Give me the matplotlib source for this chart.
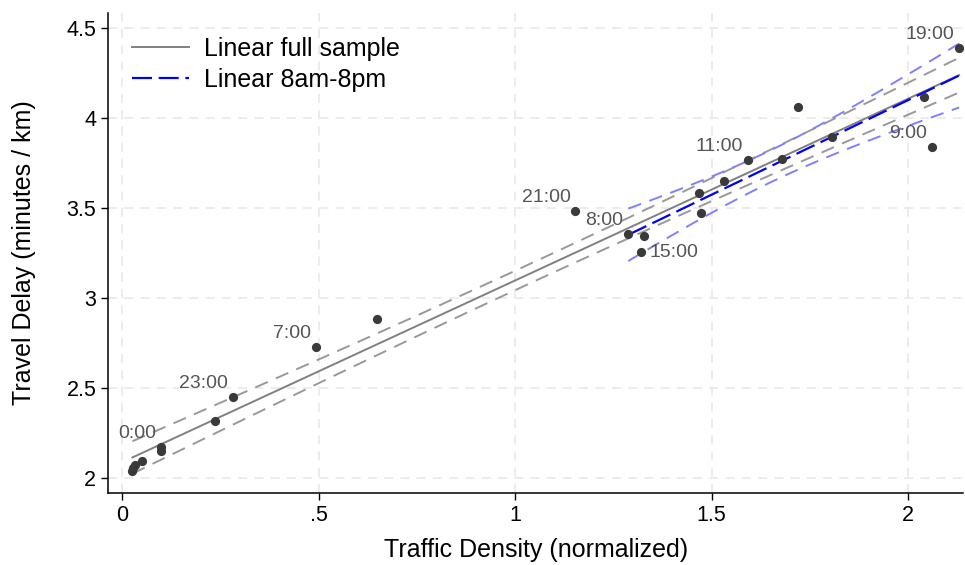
import numpy as np
import matplotlib.pyplot as plt

plt.rcParams['font.family'] = ['Liberation Sans', 'DejaVu Sans']

# hora del dia, densidad normalizada y demora por km
hora = np.array([0, 1, 2, 3, 4, 5, 6, 7, 8, 9, 10, 11,
                 12, 13, 14, 15, 16, 17, 18, 19, 20, 21, 22, 23])
densidad = np.array([0.099, 0.099, 0.051, 0.033, 0.026, 0.028, 0.235, 0.492,
                     1.288, 2.061, 1.806, 1.592, 1.531, 1.467, 1.472, 1.321,
                     1.679, 2.041, 1.719, 2.130, 1.329, 1.153, 0.648, 0.281])
demora = np.array([2.172, 2.150, 2.094, 2.072, 2.039, 2.056, 2.317, 2.728,
                   3.356, 3.839, 3.894, 3.767, 3.650, 3.583, 3.472, 3.256,
                   3.772, 4.117, 4.061, 4.389, 3.344, 3.483, 2.883, 2.450])
etiquetas = [0, 7, 8, 9, 11, 15, 19, 21, 23]
etiq_derecha = [15]

def ajuste_ic(x, y, t):
    # recta de minimos cuadrados con IC 95% de la media
    n = len(x)
    b, a = np.polyfit(x, y, 1)
    res = y - (a + b*x)
    s = np.sqrt(np.sum(res**2)/(n - 2))
    xx = np.linspace(x.min(), x.max(), 100)
    yy = a + b*xx
    se = s*np.sqrt(1/n + (xx - x.mean())**2/np.sum((x - x.mean())**2))
    return xx, yy, yy - t*se, yy + t*se

dia = (hora >= 8) & (hora <= 20)
xf, yf, lf, uf = ajuste_ic(densidad, demora, 2.0739)
xd, yd, ld, ud = ajuste_ic(densidad[dia], demora[dia], 2.2010)

fig = plt.figure(figsize=(9.65, 5.65), dpi=100)
ax = fig.add_axes([0.112, 0.127, 0.886, 0.85])

ax.plot(xf, lf, color='#999999', lw=1.4, dashes=(7, 4.5))
ax.plot(xf, uf, color='#999999', lw=1.4, dashes=(7, 4.5))
ax.plot(xd, ld, color='#8080ff', lw=1.4, dashes=(7, 4.5))
ax.plot(xd, ud, color='#8080ff', lw=1.4, dashes=(7, 4.5))
ax.plot(xf, yf, color='#808080', lw=1.4, label='Linear full sample')
ax.plot(xd, yd, color='#0000ff', lw=1.6, dashes=(9, 3), label='Linear 8am-8pm')

ax.scatter(densidad, demora, s=44, color='#3a3a3a', zorder=5, linewidths=0)

for h, xv, yv in zip(hora, densidad, demora):
    if h in etiquetas:
        if h in etiq_derecha:
            ax.annotate(f'{h}:00', (xv, yv), xytext=(6, 0), textcoords='offset points',
                        ha='left', va='center', fontsize=14, color='#555555')
        else:
            ax.annotate(f'{h}:00', (xv, yv), xytext=(-3.5, 10), textcoords='offset points',
                        ha='right', va='center', fontsize=14, color='#555555')

ax.set_xlim(-0.036, 2.14)
ax.set_ylim(1.917, 4.583)
ax.set_xticks([0, 0.5, 1, 1.5, 2])
ax.set_xticklabels(['0', '.5', '1', '1.5', '2'])
ax.set_yticks([2, 2.5, 3, 3.5, 4, 4.5])
ax.set_yticklabels(['2', '2.5', '3', '3.5', '4', '4.5'])
ax.tick_params(labelsize=15.5, length=5, width=1, direction='out')
ax.grid(True, color='#eaeaea', lw=1.3, dashes=(5, 4))
ax.set_axisbelow(True)
for lado in ['top', 'right']:
    ax.spines[lado].set_visible(False)
ax.spines['left'].set_linewidth(1.1)
ax.spines['bottom'].set_linewidth(1.1)

ax.set_xlabel('Traffic Density (normalized)', fontsize=18, va='center')
ax.set_ylabel('Travel Delay (minutes / km)', fontsize=18, va='center')
ax.xaxis.set_label_coords(0.5, -0.119)
ax.yaxis.set_label_coords(-0.098, 0.5)

ax.legend(loc='upper left', frameon=False, fontsize=18, handlelength=2.3,
          handletextpad=0.6, labelspacing=0.3, borderaxespad=0.55)

fig.savefig('out.png', dpi=100)
